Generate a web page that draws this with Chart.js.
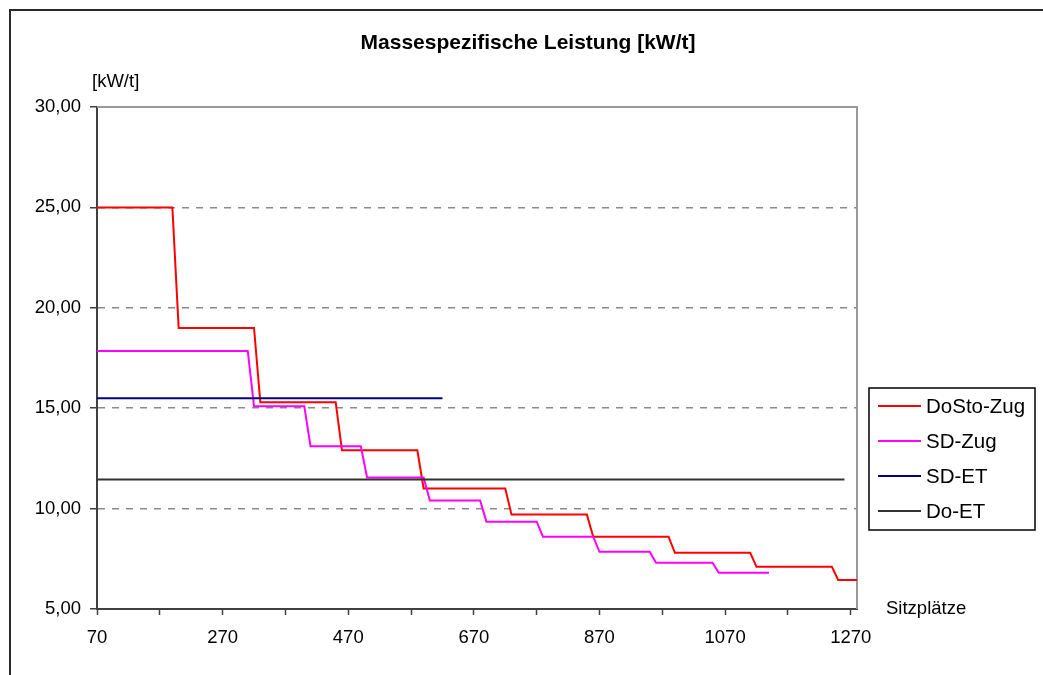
<!DOCTYPE html>
<html><head><meta charset="utf-8">
<script src="https://cdn.jsdelivr.net/npm/chart.js@4/dist/chart.umd.min.js"></script>
<style>html,body{margin:0;padding:0;background:#fff;}#wrap{width:1043px;height:675px;}</style>
</head><body><div id="wrap"><canvas id="c" width="1043" height="675"></canvas></div>
<script>
const chartTitle = 'Massespezifische Leistung [kW/t]';
const yUnit = '[kW/t]';
const xUnit = 'Sitzplätze';
const seriesNames = ['DoSto-Zug', 'SD-Zug', 'SD-ET', 'Do-ET'];
const seriesColors = ['#ff0000', '#ff00ff', '#000080', '#333333'];
const yTicks = [5, 10, 15, 20, 25, 30];
const xTickPositions = [70, 170, 270, 370, 470, 570, 670, 770, 870, 970, 1070, 1170, 1270];
const xTickLabels = [70, 270, 470, 670, 870, 1070, 1270];

const dostoSeats  = [70, 190, 200, 320, 330, 450, 460, 580, 590, 720, 730, 850, 860, 980, 990, 1110, 1120, 1240, 1250, 1280];
const dostoValues = [25.0, 25.0, 19.0, 19.0, 15.3, 15.3, 12.9, 12.9, 11.0, 11.0, 9.7, 9.7, 8.6, 8.6, 7.8, 7.8, 7.1, 7.1, 6.45, 6.45];

const sdZugSeats  = [70, 310, 320, 400, 410, 490, 500, 590, 600, 680, 690, 770, 780, 860, 870, 950, 960, 1050, 1060, 1140];
const sdZugValues = [17.85, 17.85, 15.1, 15.1, 13.1, 13.1, 11.55, 11.55, 10.4, 10.4, 9.35, 9.35, 8.6, 8.6, 7.85, 7.85, 7.3, 7.3, 6.8, 6.8];

const sdEtSeats  = [70, 620];
const sdEtValues = [15.5, 15.5];

const doEtSeats  = [70, 1260];
const doEtValues = [11.45, 11.45];

const FONT = "'Liberation Sans', Arial, sans-serif";
Chart.defaults.font.family = FONT;
Chart.defaults.color = '#000';

function pts(xs, ys) { return xs.map((x, i) => ({ x: x, y: ys[i] })); }

const seriesData = [pts(dostoSeats, dostoValues), pts(sdZugSeats, sdZugValues), pts(sdEtSeats, sdEtValues), pts(doEtSeats, doEtValues)];

const decorPlugin = {
  id: 'decor',
  beforeDatasetsDraw(chart) {
    const ctx = chart.ctx, a = chart.chartArea;
    ctx.save();
    ctx.strokeStyle = '#9a9a9a';
    ctx.lineWidth = 2;
    ctx.beginPath();
    ctx.moveTo(a.left, a.top);
    ctx.lineTo(a.right, a.top);
    ctx.lineTo(a.right, a.bottom);
    ctx.stroke();
    ctx.restore();
  },
  afterDraw(chart) {
    const ctx = chart.ctx;
    ctx.save();
    ctx.strokeStyle = '#2a2a2a';
    ctx.lineWidth = 2;
    ctx.strokeRect(10, 10, 1200, 1200);
    ctx.fillStyle = '#000';
    ctx.font = 'bold 21px ' + FONT;
    ctx.textAlign = 'center';
    ctx.textBaseline = 'middle';
    ctx.fillText(chartTitle, 528, 43);
    ctx.font = '18.5px ' + FONT;
    ctx.textAlign = 'left';
    ctx.fillText(yUnit, 92, 82);
    ctx.textBaseline = 'alphabetic';
    ctx.fillText(xUnit, 886, 614);
    ctx.strokeStyle = '#000';
    ctx.lineWidth = 1.5;
    ctx.strokeRect(869, 388, 166, 142);
    ctx.font = '20.5px ' + FONT;
    ctx.textBaseline = 'middle';
    seriesNames.forEach((name, i) => {
      const y = 406 + i * 35;
      ctx.strokeStyle = seriesColors[i];
      ctx.lineWidth = 2;
      ctx.beginPath();
      ctx.moveTo(878, y);
      ctx.lineTo(921, y);
      ctx.stroke();
      ctx.fillStyle = '#000';
      ctx.fillText(name, 926, y + 1);
    });
    ctx.restore();
  }
};

new Chart(document.getElementById('c'), {
  type: 'line',
  data: {
    datasets: seriesNames.map((name, i) => ({
      label: name,
      data: seriesData[i],
      borderColor: seriesColors[i],
      backgroundColor: seriesColors[i],
      borderWidth: 2,
      pointRadius: 0,
      tension: 0,
      fill: false,
      order: 3 - i
    }))
  },
  options: {
    responsive: false,
    animation: false,
    devicePixelRatio: 1,
    layout: { padding: { left: 0, top: 107, right: 186, bottom: 0 } },
    plugins: { legend: { display: false }, title: { display: false }, tooltip: { enabled: false } },
    scales: {
      x: {
        type: 'linear',
        min: 70,
        max: 1280,
        afterBuildTicks: s => { s.ticks = xTickPositions.map(v => ({ value: v })); },
        afterFit: s => { s.height = 66; },
        ticks: {
          autoSkip: false,
          maxRotation: 0,
          padding: 12,
          font: { size: 18.5 },
          color: '#000',
          callback: v => xTickLabels.includes(v) ? String(v) : ''
        },
        grid: { drawOnChartArea: false, tickColor: '#404040', tickLength: 6, tickWidth: 1.5 },
        border: { color: '#404040', width: 2 }
      },
      y: {
        type: 'linear',
        min: 5,
        max: 30,
        afterBuildTicks: s => { s.ticks = yTicks.map(v => ({ value: v })); },
        afterFit: s => { s.width = 97; },
        ticks: {
          padding: 9,
          font: { size: 18.5 },
          color: '#000',
          callback: v => Number(v).toFixed(2).replace('.', ',')
        },
        grid: {
          color: c => (c.tick && (c.tick.value === 5 || c.tick.value === 30)) ? 'rgba(0,0,0,0)' : '#8a8a8a',
          lineWidth: 1.5,
          tickColor: '#404040',
          tickLength: 7,
          tickWidth: 1.5
        },
        border: { color: '#404040', width: 2, dash: [7, 7] }
      }
    }
  },
  plugins: [decorPlugin]
});
</script>
</body></html>
